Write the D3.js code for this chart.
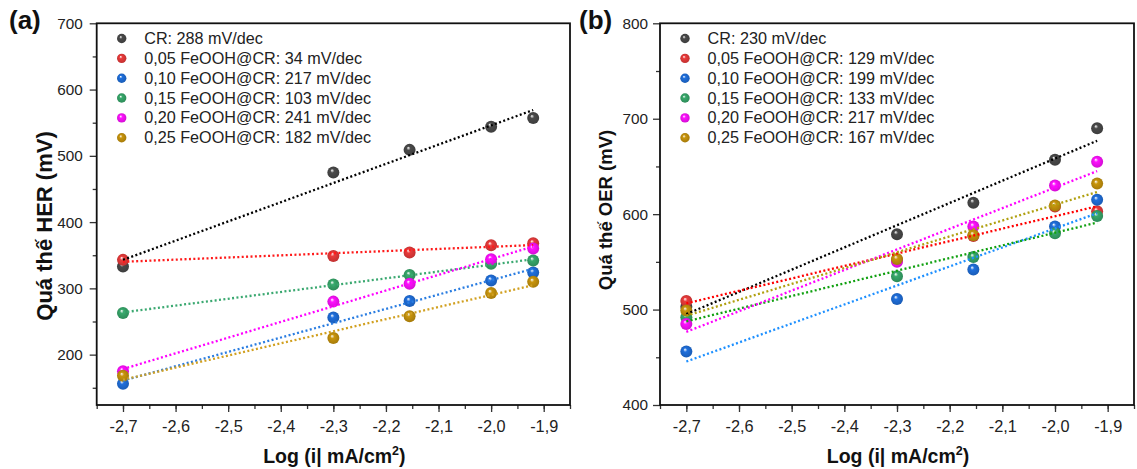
<!DOCTYPE html>
<html>
<head>
<meta charset="utf-8">
<script src="https://cdn.jsdelivr.net/npm/d3@7"></script>
<style>
  body { margin: 0; background: #fff; }
  svg { display: block; font-family: "Liberation Sans", Arial, sans-serif; }
</style>
</head>
<body>
<script>
// log(i) values shared by both panels
var logI = [-2.7, -2.3, -2.155, -2.0, -1.92]

var seriesNames = ["CR", "0,05 FeOOH@CR", "0,10 FeOOH@CR", "0,15 FeOOH@CR", "0,20 FeOOH@CR", "0,25 FeOOH@CR"]
var herSlopes = [288, 34, 217, 103, 241, 182]
var oerSlopes = [230, 129, 199, 133, 217, 167]

// overpotential (mV)
var herCR   = [333, 475, 509, 544, 557]
var her005  = [343, 349, 354, 365, 368]
var her010  = [156, 256, 281, 312, 324]
var her015  = [263, 306, 320, 337, 342]
var her020  = [175, 280, 307, 344, 360]
var her025  = [168, 225, 258, 293, 310]

var oerCR   = [503, 579, 612, 657, 690]
var oer005  = [509, 552, 577, 608, 603]
var oer010  = [456, 511, 542, 587, 615]
var oer015  = [492, 535, 555, 580, 598]
var oer020  = [485, 550, 587, 630, 655]
var oer025  = [499, 553, 578, 609, 632]

var pointColors = ["#4a4a4a", "#ea3b3b", "#1f6fdc", "#37a86b", "#ff10ff", "#c9950c"]
var lineColorsA = ["#000000", "#ff1a1a", "#2a7de1", "#3aa870", "#ff00ff", "#d1a020"]
var lineColorsB = ["#000000", "#ff0000", "#1e90ff", "#10a010", "#ff00ff", "#b0a010"]

var w = 1137, h = 469

var svg = d3.select("body").append("svg")
   .attr("width", w)
   .attr("height", h)

var defs = svg.append("defs")
pointColors.forEach(function(c, i) {
  var g = defs.append("radialGradient").attr("id", "ball" + i)
     .attr("cx", "50%").attr("cy", "50%").attr("r", "55%")
     .attr("fx", "38%").attr("fy", "32%")
  g.append("stop").attr("offset", "0%").attr("stop-color", "#ffffff").attr("stop-opacity", 0.95)
  g.append("stop").attr("offset", "30%").attr("stop-color", c)
  g.append("stop").attr("offset", "100%").attr("stop-color", d3.color(c).darker(0.6))
})

function fit(xs, ys) {
  var mx = d3.mean(xs), my = d3.mean(ys)
  var sxy = d3.sum(xs, function(x, i) { return (x - mx) * (ys[i] - my) })
  var sxx = d3.sum(xs, function(x) { return (x - mx) * (x - mx) })
  var b = sxy / sxx
  return function(x) { return my + b * (x - mx) }
}

function drawPanel(opt) {
  var g = svg.append("g")
  var x = d3.scaleLinear().domain([-2.75, -1.85]).range([opt.left, opt.right])
  var y = d3.scaleLinear().domain(opt.ydom).range([405, 23.3])

  // ticks
  var xMajor = d3.range(-2.7, -1.85, 0.1)
  var xMinor = d3.range(-2.75, -1.84, 0.05)
  g.append("g").attr("transform", "translate(0,405)")
    .call(d3.axisBottom(x).tickValues(xMinor).tickSize(4).tickFormat(""))
  var xa = g.append("g").attr("transform", "translate(0,405)")
    .call(d3.axisBottom(x).tickValues(xMajor).tickSize(7).tickPadding(8)
      .tickFormat(function(d) { return d3.format(".1f")(d).replace(".", ",").replace("−", "-") }))
  g.append("g").attr("transform", "translate(" + opt.left + ",0)")
    .call(d3.axisLeft(y).tickValues(opt.yMinor).tickSize(4).tickFormat(""))
  var ya = g.append("g").attr("transform", "translate(" + opt.left + ",0)")
    .call(d3.axisLeft(y).tickValues(opt.yMajor).tickSize(7).tickPadding(opt.yPad).tickFormat(d3.format("d")))
  g.selectAll(".domain").remove()
  g.selectAll(".tick line").attr("stroke", "#333").attr("stroke-width", 1.3)
  g.selectAll(".tick text").attr("fill", "#222")
    .style("font-family", "'Liberation Sans', Arial, sans-serif")
  xa.selectAll(".tick text").style("font-size", "16.3px")
  ya.selectAll(".tick text").style("font-size", "15.3px")

  // frame
  g.append("rect").attr("x", opt.left).attr("y", 23.3)
    .attr("width", opt.right - opt.left).attr("height", 405 - 23.3)
    .attr("fill", "none").attr("stroke", "#111").attr("stroke-width", 1.8)

  // points then dotted fits
  opt.series.forEach(function(ys, i) {
    g.selectAll(null).data(ys).enter().append("circle")
      .attr("cx", function(d, j) { return x(logI[j]) })
      .attr("cy", function(d) { return y(d) })
      .attr("r", 6)
      .attr("fill", "url(#ball" + i + ")")
  })
  opt.series.forEach(function(ys, i) {
    var f = fit(logI, ys)
    var ends = [logI[0], logI[logI.length - 1]]
    g.append("path")
      .attr("d", d3.line().x(function(d) { return x(d) }).y(function(d) { return y(f(d)) })(ends))
      .attr("stroke", opt.lineColors[i]).attr("stroke-width", 2.3)
      .attr("stroke-dasharray", "2,2.4").attr("fill", "none")
  })

  // legend
  var leg = g.append("g")
  seriesNames.forEach(function(n, i) {
    var ly = 38.5 + i * 19.85
    leg.append("circle").attr("cx", opt.left + 25).attr("cy", ly).attr("r", 4.7)
      .attr("fill", "url(#ball" + i + ")")
    leg.append("text").attr("x", opt.left + 47.5).attr("y", ly + 5.5)
      .attr("fill", "#222").style("font-size", "16.2px")
      .text(n + ": " + opt.slopes[i] + " mV/dec")
  })

  // axis titles
  var xt = g.append("text").attr("x", (opt.left + opt.right) / 2 + 1).attr("y", 463)
    .attr("text-anchor", "middle").style("font-size", "19.5px").style("font-weight", "bold")
    .attr("fill", "#111")
  xt.append("tspan").text("Log (i| mA/cm")
  xt.append("tspan").attr("dy", -8).style("font-size", "12.5px").text("2")
  xt.append("tspan").attr("dy", 8).text(")")

  g.append("text").attr("transform", "translate(" + opt.ytX + "," + opt.ytY + ") rotate(-90)")
    .attr("text-anchor", "middle").style("font-size", opt.ytSize + "px").style("font-weight", "bold")
    .attr("fill", "#111").text(opt.ytitle)

  g.append("text").attr("x", opt.tagX).attr("y", 29)
    .style("font-size", "26px").style("font-weight", "bold").attr("fill", "#111")
    .text(opt.tag)
}

drawPanel({
  left: 96.7, right: 570, ydom: [124, 700],
  yMajor: [200, 300, 400, 500, 600, 700],
  yMinor: [150, 250, 350, 450, 550, 650],
  yPad: 7,
  series: [herCR, her005, her010, her015, her020, her025],
  slopes: herSlopes, lineColors: lineColorsA,
  ytitle: "Quá thế HER (mV)", ytX: 52, ytY: 226, ytSize: 22,
  tag: "(a)", tagX: 9
})

drawPanel({
  left: 660, right: 1134, ydom: [400, 800],
  yMajor: [400, 500, 600, 700, 800],
  yMinor: [450, 550, 650, 750],
  yPad: 5,
  series: [oerCR, oer005, oer010, oer015, oer020, oer025],
  slopes: oerSlopes, lineColors: lineColorsB,
  ytitle: "Quá thế OER (mV)", ytX: 612, ytY: 210, ytSize: 18.5,
  tag: "(b)", tagX: 579
})
</script>
</body>
</html>
